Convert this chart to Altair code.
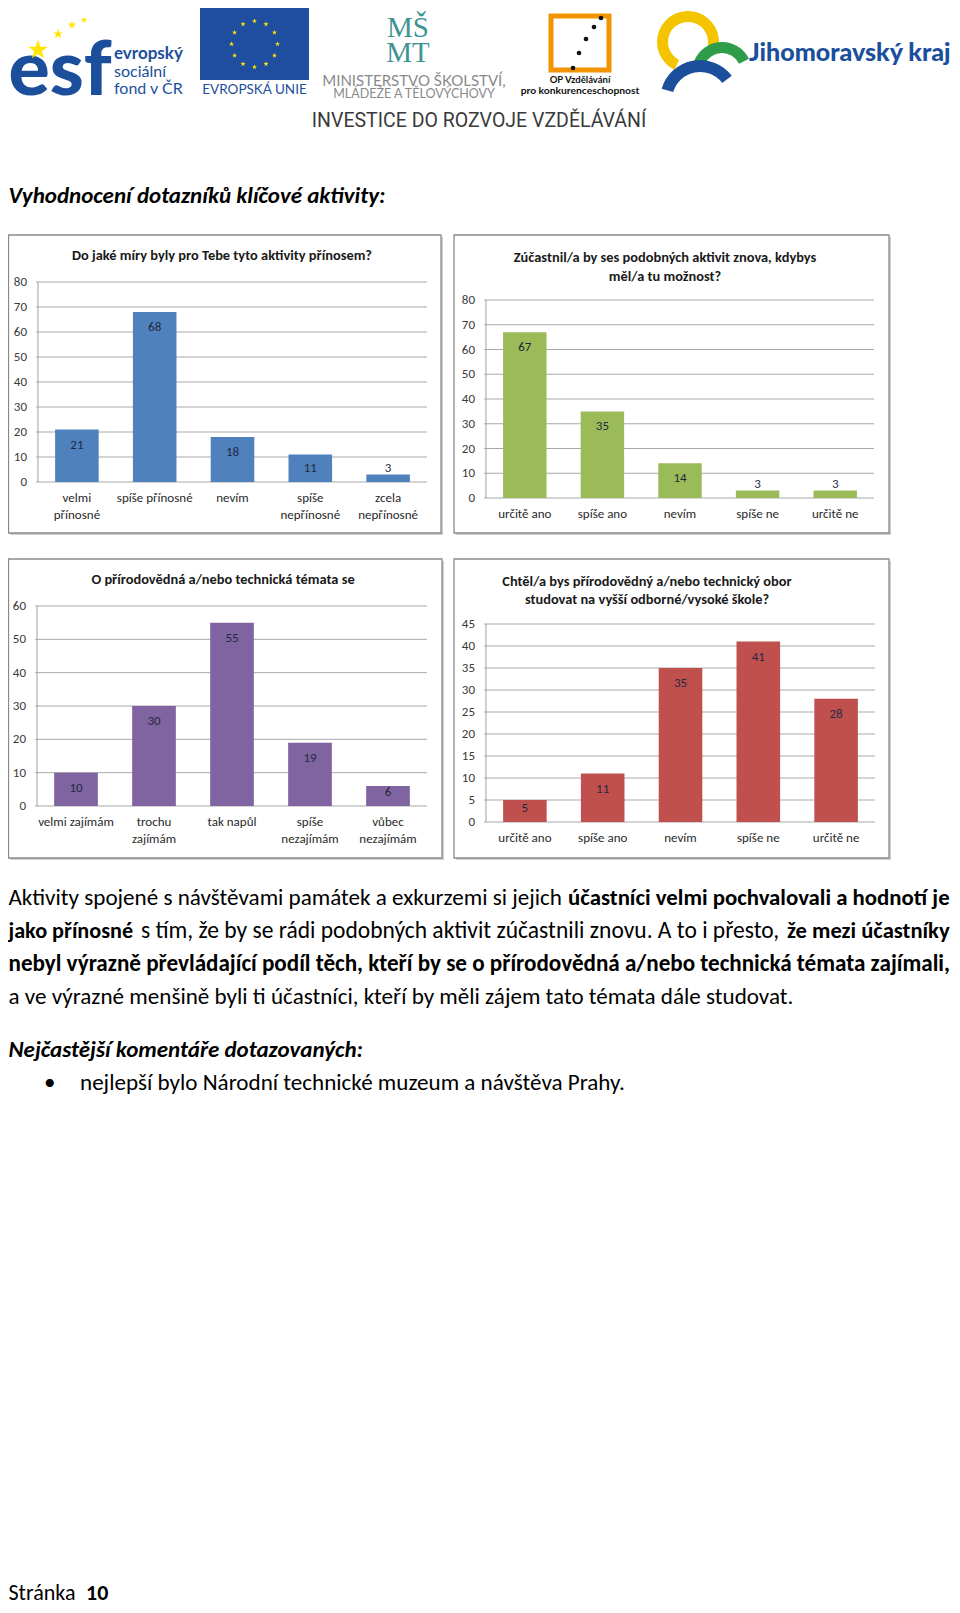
import altair as alt
import pandas as pd

# ---------------- data ----------------
cats1 = ["velmi\npřínosné", "spíše přínosné", "nevím", "spíše\nnepřínosné", "zcela\nnepřínosné"]
vals1 = [21, 68, 18, 11, 3]
ticks1 = [0, 10, 20, 30, 40, 50, 60, 70, 80]
title1 = ["Do jaké míry byly pro Tebe tyto aktivity přínosem?"]

cats2 = ["určitě ano", "spíše ano", "nevím", "spíše ne", "určitě ne"]
vals2 = [67, 35, 14, 3, 3]
ticks2 = [0, 10, 20, 30, 40, 50, 60, 70, 80]
title2 = ["Zúčastnil/a by ses podobných aktivit znova, kdybys", "měl/a tu možnost?"]

cats3 = ["velmi zajímám", "trochu\nzajímám", "tak napůl", "spíše\nnezajímám", "vůbec\nnezajímám"]
vals3 = [10, 30, 55, 19, 6]
ticks3 = [0, 10, 20, 30, 40, 50, 60]
title3 = ["O přírodovědná a/nebo technická témata se"]

cats4 = ["určitě ano ", "spíše ano ", "nevím ", "spíše ne ", "určitě ne "]
vals4 = [5, 11, 35, 41, 28]
ticks4 = [0, 5, 10, 15, 20, 25, 30, 35, 40, 45]
title4 = ["Chtěl/a bys přírodovědný a/nebo technický obor", "studovat na vyšší odborné/vysoké škole?"]

# ---------------- layout / style ----------------
OX, OY = 8, 8
LEFT = 8.5
FONT = "Carlito, Lato, sans-serif"
W, H = 944, 1597


def cx(x):
    return max(x, LEFT) - OX


def cy(y):
    return y - OY


def text(t, x, y, size=14, weight="normal", style="normal", color="#000000",
         align="left", baseline="middle", font=FONT, **kw):
    return alt.Chart(pd.DataFrame({"t": [t]})).mark_text(
        fontSize=size, fontWeight=weight, fontStyle=style, color=color,
        align=align, baseline=baseline, font=font, **kw
    ).encode(text="t:N", x=alt.value(cx(x)), y=alt.value(cy(y)))


def bar_panel(cats, vals, ticks, title_lines, color, frame, plot, tcx, tys):
    fx0, fy0, fx1, fy1 = frame
    px0, py0, px1, py1 = plot
    ymax = ticks[-1]
    k = (py1 - py0) / ymax
    df = pd.DataFrame({"cat": cats, "value": vals})
    xsc = alt.Scale(domain=cats, range=[cx(px0), cx(px1)], paddingInner=0.44, paddingOuter=0.22)
    ysc = alt.Scale(domain=[0, ymax], range=[cy(py1), cy(py0)], nice=False, zero=True)

    shadow = alt.Chart(pd.DataFrame({"a": [1]})).mark_rect(fill="#d0d0d0").encode(
        x=alt.value(cx(fx0) + 2), x2=alt.value(cx(fx1) + 2),
        y=alt.value(cy(fy0) + 2), y2=alt.value(cy(fy1) + 2))
    box = alt.Chart(pd.DataFrame({"a": [1]})).mark_rect(
        fill="white", stroke="#8a8a8a", strokeWidth=1.3).encode(
        x=alt.value(cx(fx0)), x2=alt.value(cx(fx1)),
        y=alt.value(cy(fy0)), y2=alt.value(cy(fy1)))

    tdf = pd.DataFrame({"tick": ticks})
    grid = alt.Chart(tdf).mark_rule(color="#a9a9a9", strokeWidth=1).encode(
        y=alt.Y("tick:Q", scale=ysc, axis=None),
        x=alt.value(cx(px0) - 2), x2=alt.value(cx(px1)))
    yaxis = alt.Chart(pd.DataFrame({"a": [1]})).mark_rule(color="#a0a0a0", strokeWidth=1).encode(
        x=alt.value(cx(px0)), y=alt.value(cy(py0)), y2=alt.value(cy(py1)))
    tlab = alt.Chart(tdf).mark_text(
        align="right", baseline="middle", fontSize=13, font=FONT, color="#3a3a3a").encode(
        y=alt.Y("tick:Q", scale=ysc, axis=None), x=alt.value(cx(px0) - 11), text="tick:Q")

    bars = alt.Chart(df).mark_bar(color=color).encode(
        x=alt.X("cat:N", scale=xsc, axis=None, sort=cats),
        y=alt.Y("value:Q", scale=ysc, axis=None))
    vlab = alt.Chart(df).transform_calculate(
        lp=f"max(datum.value - {15 / k:.4f}, {14 / k:.4f})"
    ).mark_text(fontSize=13, font=FONT, color="#1f2a40", baseline="middle").encode(
        x=alt.X("cat:N", scale=xsc, axis=None, sort=cats),
        y=alt.Y("lp:Q", scale=ysc, axis=None),
        text="value:Q")
    clab = alt.Chart(df).mark_text(
        fontSize=13, font=FONT, color="#2a2a2a", baseline="top", lineBreak="\n",
        lineHeight=17).encode(
        x=alt.X("cat:N", scale=xsc, axis=None, sort=cats),
        y=alt.value(cy(py1) + 10), text="cat:N")

    titles = [text(t, tcx, ty, size=14.4, weight="bold", color="#1a1a1a", align="center")
              for t, ty in zip(title_lines, tys)]
    return alt.layer(shadow, box, grid, yaxis, tlab, bars, vlab, clab, *titles)


p1 = bar_panel(cats1, vals1, ticks1, title1, "#4F81BD",
               (5, 235, 441, 533), (38, 282, 427, 482), 222, [256])
p2 = bar_panel(cats2, vals2, ticks2, title2, "#9BBB59",
               (454, 235, 889, 533), (486, 300, 874, 498), 665, [258, 277])
p3 = bar_panel(cats3, vals3, ticks3, title3, "#8064A2",
               (5, 559, 442, 858), (37, 606, 427, 806), 223, [580])
p4 = bar_panel(cats4, vals4, ticks4, title4, "#C0504D",
               (454, 559, 889, 858), (486, 624, 875, 822), 647, [582, 600])

# ---------------- header (logos) ----------------
STAR = "M0,-1L0.2245,-0.309L0.951,-0.309L0.363,0.118L0.588,0.809L0,0.382L-0.588,0.809L-0.363,0.118L-0.951,-0.309L-0.2245,-0.309Z"
BLUE = "#1b4f9c"
header = []
header.append(text("esf", 5, 95, size=77, weight=900, color=BLUE, baseline="alphabetic",
                   font="Lato, sans-serif"))
esf_stars = pd.DataFrame({"sx": [30, 50, 64, 76], "sy": [42, 26, 17, 12], "s": [420, 110, 80, 50]})
header.append(alt.Chart(esf_stars).mark_point(shape=STAR, filled=True, color="#ffe500", opacity=1).encode(
    x=alt.X("sx:Q", scale=None), y=alt.Y("sy:Q", scale=None), size=alt.Size("s:Q", scale=None)))
header.append(text("evropský", 114, 54, size=17, weight="bold", color=BLUE, font="Lato, sans-serif"))
header.append(text("sociální", 114, 72, size=16, color=BLUE, font="Lato, sans-serif"))
header.append(text("fond v ČR", 114, 89, size=16, color=BLUE, font="Lato, sans-serif"))

header.append(alt.Chart(pd.DataFrame({"a": [1]})).mark_rect(fill="#1f4ea1").encode(
    x=alt.value(cx(200)), x2=alt.value(cx(309)), y=alt.value(cy(8)), y2=alt.value(cy(80))))
eu = pd.DataFrame({"ang": list(range(0, 360, 30))})
header.append(alt.Chart(eu).transform_calculate(
    sx=f"{cx(254.5)} + 23*cos(datum.ang*PI/180)",
    sy=f"{cy(44)} + 23*sin(datum.ang*PI/180)"
).mark_point(shape=STAR, filled=True, color="#ffe500", opacity=1, size=30).encode(
    x=alt.X("sx:Q", scale=None), y=alt.Y("sy:Q", scale=None)))
header.append(text("EVROPSKÁ UNIE", 254.5, 90, size=13.5, color=BLUE, align="center",
                   font="Lato, sans-serif"))

TEAL = "#3f9393"
header.append(text("MŠ\nMT", 408, 37, size=29, color=TEAL, align="center", baseline="alphabetic",
                   font="Liberation Serif, serif", lineBreak="\n", lineHeight=25))
header.append(text("MINISTERSTVO ŠKOLSTVÍ,", 414, 81, size=15, color="#8a8a8a", align="center",
                   font="Lato, sans-serif"))
header.append(text("MLÁDEŽE A TĚLOVÝCHOVY", 414, 94, size=12.5, color="#8a8a8a", align="center",
                   font="Lato, sans-serif"))

header.append(alt.Chart(pd.DataFrame({"a": [1]})).mark_rect(
    fill=None, stroke="#f29400", strokeWidth=5).encode(
    x=alt.value(cx(551)), x2=alt.value(cx(609)), y=alt.value(cy(16)), y2=alt.value(cy(70))))
op_dots = pd.DataFrame({"sx": [593, 586, 578, 571, 565], "sy": [10, 19, 31, 45, 60]})
header.append(alt.Chart(op_dots).mark_circle(color="#111111", size=22, opacity=1).encode(
    x=alt.X("sx:Q", scale=None), y=alt.Y("sy:Q", scale=None)))
header.append(text("OP Vzdělávání", 580, 80, size=9.5, weight="bold", color="#111111", align="center",
                   font="Lato, sans-serif"))
header.append(text("pro konkurenceschopnost", 580, 91, size=10.3, weight="bold", color="#111111",
                   align="center", font="Lato, sans-serif"))

arcs = [("#f5c400", 688, 42, 31, 20, 3.6, 8.1),
        ("#2e9c48", 722, 72, 30, 19, 5.1, 7.4),
        ("#1b4f9c", 700, 100, 40, 28, 5.0, 7.2)]
for col, ax, ay, r1, r2, t1, t2 in arcs:
    header.append(alt.Chart(pd.DataFrame({"a": [1]})).mark_arc(
        color=col, radius=r1, radius2=r2, theta=t1, theta2=t2).encode(
        x=alt.value(cx(ax)), y=alt.value(cy(ay))))
header.append(text("Jihomoravský kraj", 749, 53, size=25, weight=900, color=BLUE,
                   font="Lato, sans-serif"))
header.append(text("INVESTICE DO ROZVOJE VZDĚLÁVÁNÍ", 479, 121, size=19.5, color="#3a3a3a",
                   align="center", font="Liberation Sans Narrow, Roboto, sans-serif"))

# ---------------- document text ----------------
BODY = 23.1
doc = []
doc.append(text("Vyhodnocení dotazníků klíčové aktivity:", 5, 196, size=23, weight="bold",
                style="italic"))
segments = [
    ("Aktivity spojené s návštěvami památek a exkurzemi si jejich", "normal", 5, 898, BODY),
    ("účastníci velmi pochvalovali a hodnotí je", "bold", 568, 898, 22.8),
    ("jako přínosné", "bold", 5, 931, 22.2),
    ("s tím, že by se rádi podobných aktivit zúčastnili znovu. A to i přesto,", "normal", 141, 931, 23.5),
    ("že mezi účastníky", "bold", 787, 931, 22.6),
    ("nebyl výrazně převládající podíl těch, kteří by se o přírodovědná a/nebo technická témata zajímali,",
     "bold", 5, 964, 23.1),
    ("a ve výrazné menšině byli ti účastníci, kteří by měli zájem tato témata dále studovat.", "normal", 5, 997,
     BODY),
]
for t, wgt, x, y, s in segments:
    doc.append(text(t, x, y, size=s, weight=wgt))
doc.append(text("Nejčastější komentáře dotazovaných:", 5, 1050, size=23, weight="bold", style="italic"))
doc.append(text("•", 44, 1083, size=BODY))
doc.append(text("nejlepší bylo Národní technické muzeum a návštěva Prahy.", 80, 1083, size=BODY))
doc.append(text("Stránka", 5, 1593, size=22))
doc.append(text("10", 86, 1593, size=22, weight="bold"))

chart = alt.layer(p1, p2, p3, p4, *header, *doc).resolve_scale(
    x="independent", y="independent"
).properties(
    width=W, height=H, autosize=alt.AutoSizeParams(type="none"), padding=0,
    background="white"
).configure_view(strokeWidth=0)

chart.save("out.html", embed_options={"renderer": "svg", "actions": False})
